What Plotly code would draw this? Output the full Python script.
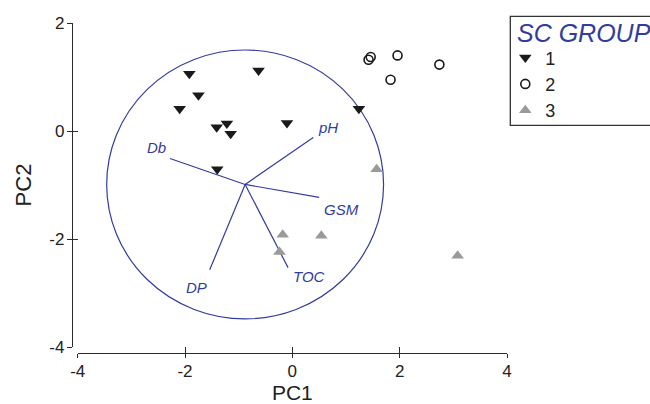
import plotly.graph_objects as go

# ---------------- data ----------------
g1_x = [-1.92, -0.63, -1.75, -2.10, -1.41, -1.22, -1.15, -0.10, 1.24, -1.40]
g1_y = [1.06, 1.12, 0.66, 0.41, 0.07, 0.14, -0.05, 0.15, 0.41, -0.71]
g2_x = [1.42, 1.46, 1.96, 2.74, 1.83]
g2_y = [1.32, 1.37, 1.40, 1.23, 0.95]
g3_x = [1.57, -0.18, 0.54, -0.24, 3.08]
g3_y = [-0.71, -1.92, -1.94, -2.24, -2.31]

vec_names = ["pH", "Db", "GSM", "TOC", "DP"]
vec_origin = (-0.88, -0.99)
vec_end_x = [0.39, -2.28, 0.50, -0.08, -1.54]
vec_end_y = [-0.12, -0.51, -1.23, -2.53, -2.57]
circle_rx = 2.58
circle_ry = 2.49

x_ticks = [-4, -2, 0, 2, 4]
y_ticks = [-4, -2, 0, 2]
group_names = ["1", "2", "3"]
legend_title = "SC GROUP"

# ---------------- style ----------------
BLUE = "#323c9c"
AXC = "#2a2a2a"
FONT = "Liberation Sans, Arial, sans-serif"

W, H = 650, 404
ml, mr, mt, mb = 72, 143.3, 22.7, 51.3
pw = W - ml - mr
ph = H - mt - mb
xdom0 = 5.7 / pw
ydom0 = 6.0 / ph


def px_x(p):
    return (p - ml) / pw


def px_y(p):
    return (H - mb - p) / ph


fig = go.Figure()

# correlation circle
fig.add_shape(type="circle", xref="x", yref="y",
              x0=vec_origin[0] - circle_rx, x1=vec_origin[0] + circle_rx,
              y0=vec_origin[1] - circle_ry, y1=vec_origin[1] + circle_ry,
              line=dict(color=BLUE, width=1.2), layer="below")

# vectors
vx, vy = [], []
for ex, ey in zip(vec_end_x, vec_end_y):
    vx += [vec_origin[0], ex, None]
    vy += [vec_origin[1], ey, None]
fig.add_trace(go.Scatter(x=vx, y=vy, mode="lines",
                         line=dict(color=BLUE, width=1.2),
                         showlegend=False, hoverinfo="skip"))

label_style = {
    "pH": dict(xanchor="left", yanchor="bottom", xshift=3, yshift=-1),
    "Db": dict(xanchor="right", yanchor="bottom", xshift=-2, yshift=1),
    "GSM": dict(xanchor="left", yanchor="top", xshift=3, yshift=-2),
    "TOC": dict(xanchor="left", yanchor="middle", xshift=3, yshift=-9),
    "DP": dict(xanchor="right", yanchor="top", xshift=-1, yshift=-7),
}
for name, ex, ey in zip(vec_names, vec_end_x, vec_end_y):
    fig.add_annotation(x=ex, y=ey, xref="x", yref="y", text="<i>%s</i>" % name,
                       showarrow=False, font=dict(family=FONT, size=15, color=BLUE),
                       **label_style[name])

# groups
fig.add_trace(go.Scatter(x=g1_x, y=g1_y, mode="markers", name=group_names[0],
                         marker=dict(symbol="triangle-down", size=11, color="#1a1a1a",
                                     line=dict(width=0))))
fig.add_trace(go.Scatter(x=g2_x, y=g2_y, mode="markers", name=group_names[1],
                         marker=dict(symbol="circle-open", size=9, color="#1a1a1a",
                                     line=dict(width=1.6))))
fig.add_trace(go.Scatter(x=g3_x, y=g3_y, mode="markers", name=group_names[2],
                         marker=dict(symbol="triangle-up", size=11, color="#9a9a9a",
                                     line=dict(width=0))))

# legend frame and title
fig.add_shape(type="rect", xref="paper", yref="paper",
              x0=px_x(510), x1=px_x(665), y0=px_y(125), y1=px_y(16),
              line=dict(color="#333", width=1.3), fillcolor="rgba(0,0,0,0)")
fig.add_annotation(xref="paper", yref="paper", x=px_x(515), y=px_y(33),
                   xanchor="left", yanchor="middle", showarrow=False,
                   text="<i>%s</i>" % legend_title,
                   font=dict(family=FONT, size=25, color=BLUE))

axis_common = dict(showgrid=False, zeroline=False, showline=True, linecolor=AXC,
                   linewidth=1.3, ticks="outside", tickwidth=1.3,
                   tickcolor=AXC, tickfont=dict(family=FONT, size=17, color="#222"))

fig.update_layout(
    width=W, height=H,
    margin=dict(l=ml, r=mr, t=mt, b=mb, autoexpand=False),
    plot_bgcolor="white", paper_bgcolor="white",
    font=dict(family=FONT, color="#222"),
    xaxis=dict(range=[-4, 4], domain=[xdom0, 1], anchor="free", position=0,
               tickvals=x_ticks, ticktext=[str(v) for v in x_ticks], ticklen=4,
               ticklabelstandoff=-2,
               title=dict(text="PC1", font=dict(family=FONT, size=21, color="#222"), standoff=8),
               **axis_common),
    yaxis=dict(range=[-4, 2], domain=[ydom0, 1], anchor="free", position=0,
               tickvals=y_ticks, ticktext=[str(v) for v in y_ticks], ticklen=5,
               ticklabelstandoff=-1,
               title=dict(text="PC2", font=dict(family=FONT, size=22, color="#222"), standoff=10),
               **axis_common),
    xaxis2=dict(range=[-4, 4], domain=[xdom0, 1], anchor="free", position=0,
                overlaying="x", showgrid=False, zeroline=False, showline=False,
                ticks="inside", ticklen=6, tickwidth=1.3, tickcolor=AXC,
                tickvals=x_ticks, showticklabels=False),
    yaxis2=dict(range=[-4, 2], domain=[ydom0, 1], anchor="free", position=0,
                overlaying="y", showgrid=False, zeroline=False, showline=False,
                ticks="inside", ticklen=5, tickwidth=1.3, tickcolor=AXC,
                tickvals=y_ticks, showticklabels=False),
    legend=dict(x=px_x(505), y=px_y(39), xanchor="left", yanchor="top",
                borderwidth=0, bgcolor="rgba(0,0,0,0)",
                font=dict(family=FONT, size=18, color="#222"),
                itemwidth=30, tracegroupgap=0),
    showlegend=True,
)

# dummy trace to activate the secondary (tick-only) axes
fig.add_trace(go.Scatter(x=[None], y=[None], xaxis="x2", yaxis="y2",
                         showlegend=False, hoverinfo="skip"))

fig.write_html("out.html", config={"displayModeBar": False},
               post_script="document.body.style.margin='0';document.body.style.padding='0';")
